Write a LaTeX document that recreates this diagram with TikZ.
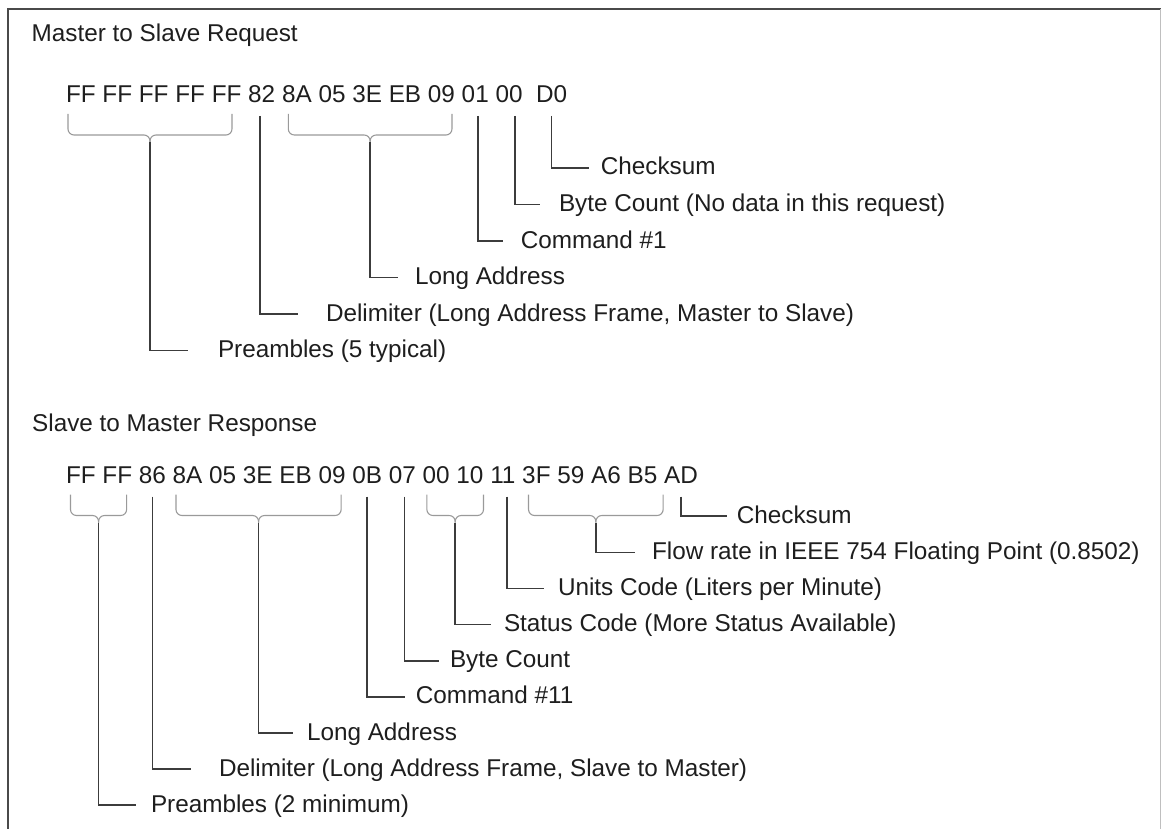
\documentclass[tikz,border=0pt]{standalone}
\usepackage{fontspec}
\setmainfont{Liberation Sans}
\usetikzlibrary{positioning,calc}
\definecolor{ink}{HTML}{1E1E1E}
\definecolor{leadgray}{HTML}{3C3C3C}
\definecolor{bracegray}{HTML}{9A9A9A}
\definecolor{framegray}{HTML}{4A4A4A}

\begin{document}
\begin{tikzpicture}[x=1pt,y=-1pt,
  every node/.style={font=\fontsize{24.3}{29}\selectfont,text=ink},
  hexbyte/.style={inner sep=0pt,outer sep=0pt,text height=17.6pt,text depth=0pt},
  heading/.style={anchor=base west,inner sep=0pt},
  note/.style={anchor=west,inner sep=0pt,outer sep=0pt,text height=17.4pt,text depth=3.4pt},
  brace/.style={draw=bracegray,line width=1.1pt,rounded corners=6pt},
  lead/.style={draw=leadgray,line width=1.6pt},
  frame/.style={draw=framegray,line width=2pt}
]
\useasboundingbox (0,0) rectangle (1161,829);
\draw[frame] (8,829) -- (8,9) -- (1161,9);
\draw[draw=black!25,line width=1pt] (1160.5,9) -- (1160.5,829);

\node[heading] (reqtitle) at (31.5,42) {Master to Slave Request};
\node[heading] (rsptitle) at (32,431.5) {Slave to Master Response};

\node[hexbyte,anchor=base west] (req1) at (66,103) {FF};
\node[hexbyte,base right=6.76pt of req1] (req2) {FF};
\node[hexbyte,base right=6.76pt of req2] (req3) {FF};
\node[hexbyte,base right=6.76pt of req3] (req4) {FF};
\node[hexbyte,base right=6.76pt of req4] (req5) {FF};
\node[hexbyte,base right=6.76pt of req5] (req6) {82};
\node[hexbyte,base right=6.76pt of req6] (req7) {8A};
\node[hexbyte,base right=6.76pt of req7] (req8) {05};
\node[hexbyte,base right=6.76pt of req8] (req9) {3E};
\node[hexbyte,base right=6.76pt of req9] (req10) {EB};
\node[hexbyte,base right=6.76pt of req10] (req11) {09};
\node[hexbyte,base right=6.76pt of req11] (req12) {01};
\node[hexbyte,base right=6.76pt of req12] (req13) {00};
\node[hexbyte,base right=13.51pt of req13] (req14) {D0};

\node[note] (qsum) at (600.8,168) {Checksum};
\node[note] (qcount) at (559,204.5) {Byte Count (No data in this request)};
\node[note] (qcmd) at (520.8,241) {Command \#1};
\node[note] (qaddr) at (415,277.5) {Long Address};
\node[note] (qdelim) at (326,314) {Delimiter (Long Address Frame, Master to Slave)};
\node[note] (qpre) at (218,350.5) {Preambles (5 typical)};

\coordinate (qpreL) at ([shift={(2pt,-11pt)}]req1.south west);
\coordinate (qpreR) at ([shift={(-9.5pt,-11pt)}]req5.south east);
\coordinate (qpreM) at ($(qpreL)!.5!(qpreR)+(0pt,-28pt)$);
\coordinate (qaddrL) at ([shift={(6.3pt,-11pt)}]req7.south west);
\coordinate (qaddrR) at ([shift={(-3pt,-11pt)}]req11.south east);
\coordinate (qaddrM) at ($(qaddrL)!.5!(qaddrR)+(0pt,-28pt)$);

\draw[brace] (qpreL) |- ([yshift=7pt]qpreM) -- (qpreM);
\draw[brace] (qpreR) |- ([yshift=7pt]qpreM) -- (qpreM);
\draw[brace] (qaddrL) |- ([yshift=7pt]qaddrM) -- (qaddrM);
\draw[brace] (qaddrR) |- ([yshift=7pt]qaddrM) -- (qaddrM);

\draw[lead] ([yshift=-13pt]req14.south) |- ([xshift=-11.8pt]qsum.west);
\draw[lead] ([shift={(6pt,-13pt)}]req13.south) |- ([xshift=-19pt]qcount.west);
\draw[lead] ([shift={(3pt,-13pt)}]req12.south) |- ([xshift=-17.8pt]qcmd.west);
\draw[lead] (qaddrM) |- ([xshift=-17pt]qaddr.west);
\draw[lead] ([shift={(-2pt,-13pt)}]req6.south) |- ([xshift=-28pt]qdelim.west);
\draw[lead] (qpreM) |- ([xshift=-30.5pt]qpre.west);

\node[hexbyte,anchor=base west] (rsp1) at (66,483.5) {FF};
\node[hexbyte,base right=6.76pt of rsp1] (rsp2) {FF};
\node[hexbyte,base right=6.76pt of rsp2] (rsp3) {86};
\node[hexbyte,base right=6.76pt of rsp3] (rsp4) {8A};
\node[hexbyte,base right=6.76pt of rsp4] (rsp5) {05};
\node[hexbyte,base right=6.76pt of rsp5] (rsp6) {3E};
\node[hexbyte,base right=6.76pt of rsp6] (rsp7) {EB};
\node[hexbyte,base right=6.76pt of rsp7] (rsp8) {09};
\node[hexbyte,base right=6.76pt of rsp8] (rsp9) {0B};
\node[hexbyte,base right=6.76pt of rsp9] (rsp10) {07};
\node[hexbyte,base right=6.76pt of rsp10] (rsp11) {00};
\node[hexbyte,base right=6.76pt of rsp11] (rsp12) {10};
\node[hexbyte,base right=6.76pt of rsp12] (rsp13) {11};
\node[hexbyte,base right=6.76pt of rsp13] (rsp14) {3F};
\node[hexbyte,base right=6.76pt of rsp14] (rsp15) {59};
\node[hexbyte,base right=6.76pt of rsp15] (rsp16) {A6};
\node[hexbyte,base right=6.76pt of rsp16] (rsp17) {B5};
\node[hexbyte,base right=6.76pt of rsp17] (rsp18) {AD};

\node[note] (ssum) at (736.8,516) {Checksum};
\node[note] (sflow) at (652,552.3) {Flow rate in IEEE 754 Floating Point (0.8502)};
\node[note] (sunits) at (558,588.5) {Units Code (Liters per Minute)};
\node[note] (sstatus) at (504,624.6) {Status Code (More Status Available)};
\node[note] (scount) at (450,660.7) {Byte Count};
\node[note] (scmd) at (415.8,696.8) {Command \#11};
\node[note] (saddr) at (307,733) {Long Address};
\node[note] (sdelim) at (219,769) {Delimiter (Long Address Frame, Slave to Master)};
\node[note] (spre) at (151,805) {Preambles (2 minimum)};

\coordinate (spreL) at ([shift={(4.5pt,-11pt)}]rsp1.south west);
\coordinate (spreR) at ([shift={(-5.5pt,-11pt)}]rsp2.south east);
\coordinate (spreM) at ($(spreL)!.5!(spreR)+(0pt,-28pt)$);
\coordinate (saddrL) at ([shift={(3.3pt,-11pt)}]rsp4.south west);
\coordinate (saddrR) at ([shift={(-4.5pt,-11pt)}]rsp8.south east);
\coordinate (saddrM) at ($(saddrL)!.5!(saddrR)+(0pt,-28pt)$);
\coordinate (sstatusL) at ([shift={(4.2pt,-11pt)}]rsp11.south west);
\coordinate (sstatusR) at ([shift={(0pt,-11pt)}]rsp12.south east);
\coordinate (sstatusM) at ($(sstatusL)!.5!(sstatusR)+(0pt,-28pt)$);
\coordinate (sflowL) at ([shift={(6.3pt,-11pt)}]rsp14.south west);
\coordinate (sflowR) at ([shift={(5.8pt,-11pt)}]rsp17.south east);
\coordinate (sflowM) at ($(sflowL)!.5!(sflowR)+(0pt,-28pt)$);

\draw[brace] (spreL) |- ([yshift=7pt]spreM) -- (spreM);
\draw[brace] (spreR) |- ([yshift=7pt]spreM) -- (spreM);
\draw[brace] (saddrL) |- ([yshift=7pt]saddrM) -- (saddrM);
\draw[brace] (saddrR) |- ([yshift=7pt]saddrM) -- (saddrM);
\draw[brace] (sstatusL) |- ([yshift=7pt]sstatusM) -- (sstatusM);
\draw[brace] (sstatusR) |- ([yshift=7pt]sstatusM) -- (sstatusM);
\draw[brace] (sflowL) |- ([yshift=7pt]sflowM) -- (sflowM);
\draw[brace] (sflowR) |- ([yshift=7pt]sflowM) -- (sflowM);

\draw[lead] ([yshift=-13pt]rsp18.south) |- ([xshift=-10pt]ssum.west);
\draw[lead] (sflowM) |- ([xshift=-17pt]sflow.west);
\draw[lead] ([shift={(4pt,-13pt)}]rsp13.south) |- ([xshift=-14pt]sunits.west);
\draw[lead] (sstatusM) |- ([xshift=-13pt]sstatus.west);
\draw[lead] ([shift={(2pt,-13pt)}]rsp10.south) |- ([xshift=-11pt]scount.west);
\draw[lead] ([yshift=-13pt]rsp9.south) |- ([xshift=-11pt]scmd.west);
\draw[lead] (saddrM) |- ([xshift=-14pt]saddr.west);
\draw[lead] ([yshift=-13pt]rsp3.south) |- ([xshift=-28.5pt]sdelim.west);
\draw[lead] (spreM) |- ([xshift=-15pt]spre.west);
\end{tikzpicture}
\end{document}
